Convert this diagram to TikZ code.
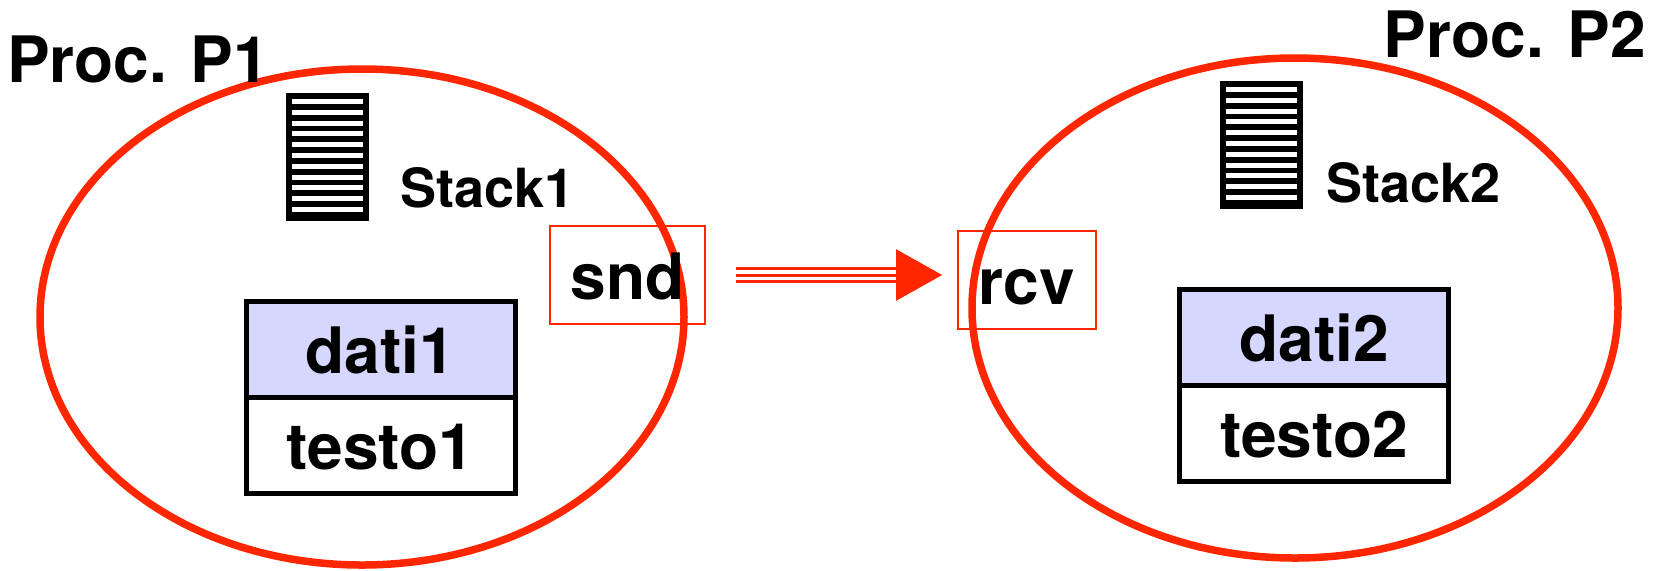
\documentclass[tikz,border=0pt]{standalone}
\usepackage{fontspec}
\setmainfont{TeX Gyre Heros}
\usetikzlibrary{shapes.geometric, positioning, arrows.meta}
\definecolor{procred}{RGB}{255,38,0}
\definecolor{datifill}{RGB}{213,215,255}
\newcommand{\stk}[2]{%
    \fill[black] (#1,#2) rectangle ++(83,128);
    \foreach \i in {0,...,10}
        \fill[white] (#1+6,#2+6+\i*10.8) rectangle ++(71,5);
}

\begin{document}
\begin{tikzpicture}[
        yscale=-1,
        x=0.5pt,
        y=0.5pt,
        every node/.style={font=\bfseries\fontsize{32}{38}\selectfont, inner sep=0pt, outer sep=0pt},
        proc/.style={ellipse, draw=procred, line width=3.75pt, minimum width=322pt, minimum height=248pt},
        port/.style={draw=procred, line width=0.75pt, minimum height=49pt, text height=24pt, text depth=0pt},
        seg/.style={draw, line width=2.5pt, minimum width=134.5pt, minimum height=48pt, text height=24pt, text depth=0pt},
        stklabel/.style={anchor=base west, font=\bfseries\fontsize{27}{32}\selectfont},
        msgline/.style={draw=procred, line width=8pt, shorten <=15.5pt, shorten >=7.5pt, -{Triangle[length=23.5pt, width=24pt]}},
        msggap/.style={draw=white, double=procred, line width=1.75pt, double distance=1.5pt, shorten <=15.5pt, shorten >=31pt}
    ]
    \useasboundingbox (0,0) rectangle (1656,570);

    \node[proc] (p1) at (362,317) {};
    \node[proc, minimum width=323pt, minimum height=250pt] (p2) at (1295,308) {};

    \node[anchor=base west] (lp1) at (7,82) {Proc. P1};
    \node[anchor=base east] (lp2) at (1646,57) {Proc. P2};

    \stk{286}{93}
    \stk{1220}{81}
    \node[stklabel] (ls1) at (400,207) {Stack1};
    \node[stklabel] (ls2) at (1326,202) {Stack2};

    \node[port, minimum width=77.5pt] (snd) at (627.5,275) {snd};
    \node[port, minimum width=69pt] (rcv) at (1027,280) {rcv};

    \node[seg, fill=datifill] (dati1) at (380.5,349) {dati1};
    \node[seg, below=0pt of dati1] (testo1) {testo1};
    \node[seg, fill=datifill] (dati2) at (1314,337.5) {dati2};
    \node[seg, below=0pt of dati2] (testo2) {testo2};

    \draw[msgline] (snd.east) -- (snd.east -| rcv.west);
    \draw[msggap] (snd.east) -- (snd.east -| rcv.west);
\end{tikzpicture}
\end{document}
